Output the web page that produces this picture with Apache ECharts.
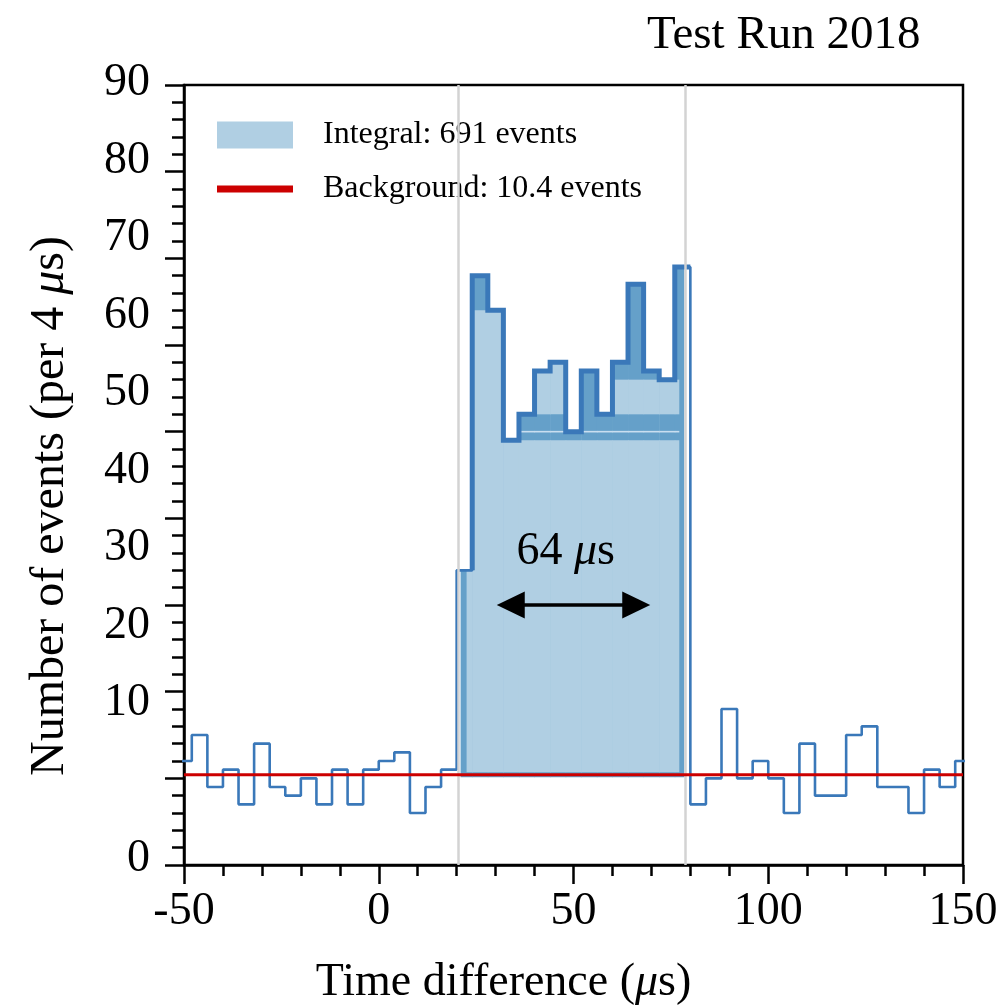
<!DOCTYPE html>
<html><head><meta charset="utf-8">
<script src="https://cdn.jsdelivr.net/npm/echarts@6/dist/echarts.min.js"></script>
<style>html,body{margin:0;padding:0;background:#fff;}#c{width:1000px;height:1008px;}</style>
</head><body><div id="c"></div>
<script>
// ---------- data ----------
const binStarts = [-52,-48,-44,-40,-36,-32,-28,-24,-20,-16,-12,-8,-4,0,4,8,12,16,
  20,24,28,32,36,40,44,48,52,56,60,64,68,72,76,
  80,84,88,92,96,100,104,108,112,116,120,124,128,132,136,140,144,148];
const counts = [12,15,9,11,7,14,9,8,10,7,11,7,11,12,13,6,9,11,
  34,68,64,49,52,57,58,50,57,52,58,67,57,56,69,
  7,10,18,10,12,10,6,14,8,8,15,16,9,9,6,11,9,12];
const binWidth = 4;
const background = 10.4;
const windowEdges = [20.5, 78.7];
// light ("integral") overlay inside the window, per bin
const lightBins     = [20,24,28,32,36,40,44,48,52,56,60,64,68,72,76];
const lightLowerTop = [34,64,64,49,49,49,49,49,49,49,49,49,49,49,49];
const lightBandLow  = [0,0,0,0,0,52,52,0,0,0,52,52,52,52,52];
const lightBandTop  = [0,0,0,0,0,57,58,0,0,0,56,56,56,56,56];
const seamValue = 50, seamFrom = 36;
const thickFrom = 24, thickTo = 80;
const yLabelValues = [0,10,20,30,40,50,60,70,80,90];
const xTickLabels = ['-50','0','50','100','150'];
const arrowSpan = [30.3, 69.7], arrowY = 30, spanLabelPos = [48, 36.1];
const legendNames = ['Integral: 691 events', 'Background: 10.4 events'];

const FONT = "'Liberation Serif','Times New Roman',serif";
const DARK = '#3a78b9', MED = '#65a0c9', LIGHT = '#b0cfe3', RED = '#cc0000';

// ---------- derived series ----------
const stepData = binStarts.map((b, i) => [b, counts[i]]);
stepData.push([binStarts[binStarts.length - 1] + binWidth, counts[counts.length - 1]]);
const iThick = binStarts.indexOf(thickFrom);
const thickData = [[thickFrom, counts[iThick - 1]]];
for (let i = iThick; i < binStarts.length && binStarts[i] < thickTo; i++) thickData.push([binStarts[i], counts[i]]);
thickData.push([thickTo, counts[binStarts.indexOf(thickTo - binWidth)]]);

const medData = [];
binStarts.forEach((b, i) => {
  if (b + binWidth > windowEdges[0] && b < windowEdges[1]) medData.push([b, counts[i]]);
});
const lightData = lightBins.map((b, i) => [b, lightLowerTop[i], lightBandLow[i], lightBandTop[i]]);

// label-only axis: the tick numbers sit where the original figure placed them
const labelAxisMin = -10, labelAxisMax = 90.65, zeroLabelAt = -9.25;
const labelPos = v => v === 0 ? zeroLabelAt : v;
const labelValues = yLabelValues.map(labelPos);

function clampRect(x0, x1, y0, y1) { return {x: x0, y: Math.min(y0, y1), width: Math.max(0, x1 - x0), height: Math.abs(y1 - y0)}; }

const chart = echarts.init(document.getElementById('c'), null, {renderer: 'canvas'});
chart.setOption({
  animation: false,
  backgroundColor: '#fff',
  title: {text: 'Test Run 2018', left: 647, top: 12, padding: 0,
    textStyle: {fontFamily: FONT, fontSize: 47, fontWeight: 'normal', color: '#000'}},
  grid: {left: 184, top: 85, width: 779, height: 780, show: true, borderColor: '#000', borderWidth: 2.5,
    backgroundColor: 'transparent', containLabel: false, outerBoundsMode: 'none'},
  legend: {
    orient: 'vertical', left: 217, top: 119, padding: 0, itemWidth: 76, itemHeight: 27, itemGap: 22,
    selectedMode: false,
    textStyle: {fontFamily: FONT, fontSize: 32, color: '#000', padding: [0, 0, 0, 25]},
    data: [
      {name: legendNames[0], icon: 'rect', itemStyle: {color: LIGHT}},
      {name: legendNames[1], icon: 'path://M0,0H76V7H0Z', itemStyle: {color: RED}}
    ]
  },
  xAxis: {
    type: 'value', min: -50, max: 150, interval: 50,
    axisLine: {onZero: false, lineStyle: {color: '#000', width: 2.5}},
    axisTick: {inside: false, length: 19, lineStyle: {color: '#000', width: 2.5}},
    minorTick: {show: true, splitNumber: 5, length: 11, lineStyle: {color: '#000', width: 2.5}},
    splitLine: {show: false},
    axisLabel: {fontFamily: FONT, fontSize: 46, color: '#000', margin: 24,
      formatter: v => xTickLabels[Math.round((v + 50) / 50)]},
    name: '{n|Time difference (}{i|μ}{n|s)}', nameLocation: 'middle', nameGap: 95,
    nameTextStyle: {padding: [0, 140, 0, 0],
      rich: {n: {fontFamily: FONT, fontSize: 46, color: '#000'},
             i: {fontFamily: FONT, fontSize: 46, color: '#000', fontStyle: 'italic'}}}
  },
  yAxis: [{
    type: 'value', min: 0, max: 90, interval: 10,
    axisLine: {show: true, onZero: false, lineStyle: {color: '#000', width: 2.5}},
    axisTick: {show: true, inside: false, length: 19, lineStyle: {color: '#000', width: 2.5}},
    minorTick: {show: true, splitNumber: 5, length: 12, lineStyle: {color: '#000', width: 2.5}},
    splitLine: {show: false},
    axisLabel: {show: false},
    name: '{n|Number of events (per 4 }{i|μ}{n|s)}', nameLocation: 'middle', nameRotate: 90, nameGap: 110,
    nameTextStyle: {padding: [0, 62, 0, 0],
      rich: {n: {fontFamily: FONT, fontSize: 48, color: '#000'},
             i: {fontFamily: FONT, fontSize: 48, color: '#000', fontStyle: 'italic'}}}
  }, {
    type: 'value', min: labelAxisMin, max: labelAxisMax, position: 'left',
    axisLine: {show: false, onZero: false}, axisTick: {show: false}, splitLine: {show: false},
    axisLabel: {fontFamily: FONT, fontSize: 46, color: '#000', margin: 34,
      customValues: labelValues,
      formatter: v => {
        const t = yLabelValues[labelValues.indexOf(v)];
        return t === 0 ? '{z|0}' : '{u|' + t + '}';
      },
      rich: {z: {fontFamily: FONT, fontSize: 46, color: '#000'},
             u: {fontFamily: FONT, fontSize: 46, color: '#000', padding: [0, 0, 14, 0]}}}
  }],
  series: [
    { // medium fill of the signal histogram within the window
      type: 'custom', name: 'signal', z: 1, silent: true, clip: true,
      data: medData, encode: {x: 0, y: 1},
      renderItem: (params, api) => {
        const b = api.value(0), c = api.value(1);
        const wl = api.coord([windowEdges[0], 0])[0] + 2, wr = api.coord([windowEdges[1], 0])[0] - 1;
        const x0 = Math.max(api.coord([b, 0])[0], wl), x1 = Math.min(api.coord([b + binWidth, 0])[0] + 0.5, wr);
        const yb = api.coord([0, background])[1] + 2.5, yt = api.coord([0, c])[1];
        return {type: 'rect', shape: clampRect(x0, x1, yb, yt), style: {fill: MED}};
      }
    },
    { // light "integral" overlay
      type: 'custom', name: legendNames[0], z: 2, silent: true, clip: true,
      itemStyle: {color: LIGHT},
      data: lightData, encode: {x: 0, y: 1},
      renderItem: (params, api) => {
        const b = api.value(0), low = api.value(1), bl = api.value(2), bt = api.value(3);
        const wl = api.coord([windowEdges[0], 0])[0] + 8, wr = api.coord([windowEdges[1], 0])[0] - 6;
        const x0 = Math.max(api.coord([b, 0])[0], wl), x1 = Math.min(api.coord([b + binWidth, 0])[0] + 0.5, wr);
        const yb = api.coord([0, background])[1] - 2.5;
        const children = [{type: 'rect', shape: clampRect(x0, x1, yb, api.coord([0, low])[1]), style: {fill: LIGHT}}];
        if (bt > 0) children.push({type: 'rect', shape: clampRect(x0, x1, api.coord([0, bl])[1], api.coord([0, bt])[1]), style: {fill: LIGHT}});
        if (b >= seamFrom) {
          const ys = api.coord([0, seamValue])[1];
          children.push({type: 'rect', shape: clampRect(x0, x1, ys - 0.8, ys + 0.8), style: {fill: '#c9def0'}});
        }
        return {type: 'group', children};
      }
    },
    { // full histogram outline
      type: 'line', name: 'hist', step: 'end', data: stepData, symbol: 'none', z: 3, clip: true, silent: true,
      lineStyle: {color: DARK, width: 2.6}
    },
    { // thick outline of the signal bins
      type: 'line', name: 'histSignal', step: 'end', data: thickData, symbol: 'none', z: 4, clip: true, silent: true,
      lineStyle: {color: DARK, width: 5, join: 'miter'}
    },
    {
      type: 'line', name: legendNames[1], data: [[-50, background], [150, background]], symbol: 'none', z: 5,
      silent: true, lineStyle: {color: RED, width: 3}, itemStyle: {color: RED}
    },
    {
      type: 'line', name: 'window', data: [], z: 6, silent: true,
      markLine: {silent: true, symbol: ['none', 'none'], label: {show: false}, animation: false,
        lineStyle: {color: '#d3d3d3', width: 2.5, type: 'solid'},
        data: windowEdges.map(x => ({xAxis: x}))}
    },
    { // span annotation
      type: 'custom', name: 'span', z: 7, silent: true, clip: false,
      data: [[arrowSpan[0], arrowSpan[1], arrowY, spanLabelPos[0], spanLabelPos[1]]],
      encode: {x: [0, 1, 3], y: [2, 4]},
      renderItem: (params, api) => {
        const p0 = api.coord([api.value(0), api.value(2)]), p1 = api.coord([api.value(1), api.value(2)]);
        const t = api.coord([api.value(3), api.value(4)]);
        const L = 28, H = 13.5;
        return {type: 'group', children: [
          {type: 'line', shape: {x1: p0[0] + L - 2, y1: p0[1], x2: p1[0] - L + 2, y2: p1[1]}, style: {stroke: '#000', lineWidth: 3.5}},
          {type: 'polygon', shape: {points: [[p0[0], p0[1]], [p0[0] + L, p0[1] - H], [p0[0] + L, p0[1] + H]]}, style: {fill: '#000'}},
          {type: 'polygon', shape: {points: [[p1[0], p1[1]], [p1[0] - L, p1[1] - H], [p1[0] - L, p1[1] + H]]}, style: {fill: '#000'}},
          {type: 'text', x: t[0], y: t[1], style: {text: '{n|64 }{i|μ}{n|s}', align: 'center', verticalAlign: 'middle',
            rich: {n: {fontFamily: FONT, fontSize: 46, fill: '#000'}, i: {fontFamily: FONT, fontSize: 46, fontStyle: 'italic', fill: '#000'}}}}
        ]};
      }
    }
  ]
});
</script></body></html>
